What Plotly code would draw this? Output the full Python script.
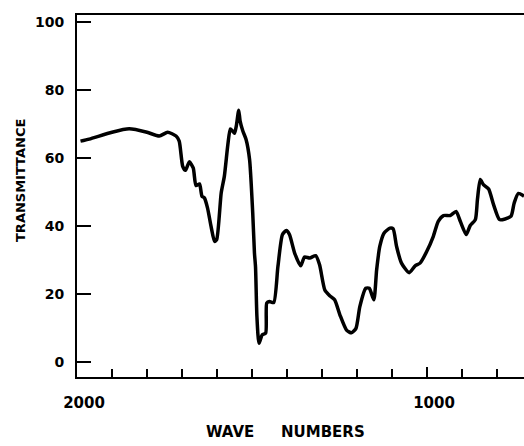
import plotly.graph_objects as go

# Wavenumbers (cm^-1) and transmittance (%)
wavenumber = [1990, 1965, 1900, 1851, 1800, 1765, 1741, 1717, 1708, 1698, 1690, 1679, 1668,
              1660, 1650, 1643, 1636, 1627, 1617, 1607, 1601, 1588, 1579, 1569, 1562, 1555,
              1550, 1545, 1538, 1534, 1526, 1517, 1507, 1498, 1493, 1490, 1486, 1480, 1471,
              1461, 1458, 1450, 1438, 1426, 1413, 1402, 1393, 1378, 1361, 1350, 1335, 1318,
              1307, 1292, 1278, 1264, 1249, 1230, 1216, 1203, 1192, 1175, 1165, 1152, 1144,
              1135, 1123, 1106, 1097, 1087, 1073, 1051, 1034, 1020, 1001, 982, 968, 953,
              934, 917, 905, 888, 877, 862, 856, 848, 839, 824, 810, 793, 777, 760, 751,
              739, 723]
transmittance = [65.0, 65.6, 67.6, 68.6, 67.6, 66.5, 67.6, 66.5, 65.0, 57.6, 56.4, 58.9, 57.1,
                 51.9, 52.4, 48.8, 48.3, 45.3, 39.9, 35.5, 36.0, 49.8, 54.7, 64.0, 68.6, 67.9,
                 67.3, 69.4, 74.1, 70.9, 67.9, 65.5, 59.6, 43.9, 32.0, 28.0, 13.4, 5.5, 8.0,
                 8.5, 17.3, 17.8, 17.5, 28.1, 37.5, 38.7, 37.5, 32.0, 28.3, 30.9, 30.6, 31.3,
                 28.6, 21.2, 19.5, 18.3, 13.9, 9.4, 8.6, 9.9, 16.3, 21.7, 21.7, 18.3, 27.1,
                 34.0, 37.9, 39.4, 39.2, 34.0, 29.1, 26.3, 28.3, 29.1, 32.5, 37.0, 41.4, 43.1,
                 43.1, 44.3, 41.4, 37.5, 40.1, 41.9, 47.8, 53.7, 52.2, 50.9, 46.3, 41.9, 42.1,
                 42.9, 46.8, 49.6, 48.8]

y_ticks = [0, 20, 40, 60, 80, 100]
x_major = [2000, 1000]
x_range = [2000, 723]
y_range = [-4.4, 102.1]

W, H = 524, 446
L, R, T, B = 77, 0, 15, 69
pw, ph = W - L - R, H - T - B


def px(xp):
    return (xp - L) / pw


def py(yp):
    return (H - B - yp) / ph


fig = go.Figure()
fig.add_trace(go.Scatter(
    x=wavenumber, y=transmittance, mode="lines",
    line=dict(color="black", width=3.5, shape="spline", smoothing=0.6),
    hoverinfo="skip", showlegend=False,
))

font = "DejaVu Sans"
fig.update_layout(
    width=W, height=H,
    margin=dict(l=L, r=R, t=T, b=B, pad=0),
    paper_bgcolor="white", plot_bgcolor="white",
    xaxis=dict(
        range=x_range, showgrid=False, zeroline=False,
        showline=True, linecolor="black", linewidth=2, mirror=True,
        tickmode="array", tickvals=x_major, ticktext=[str(v) for v in x_major],
        ticks="inside", ticklen=10, tickwidth=2, tickcolor="black",
        minor=dict(dtick=100, tick0=0, ticks="inside", ticklen=8, tickwidth=2,
                   tickcolor="black", showgrid=False),
        tickfont=dict(family=font, size=15, color="black", weight="bold"),
        ticklabelstandoff=11, ticklabelshift=-7,
    ),
    yaxis=dict(
        range=y_range, showgrid=False, zeroline=False,
        showline=True, linecolor="black", linewidth=2,
        tickmode="array", tickvals=y_ticks,
        ticks="inside", ticklen=14, tickwidth=2, tickcolor="black",
        tickfont=dict(family=font, size=14, color="black", weight="bold"),
        ticklabelstandoff=8,
    ),
)

fig.add_annotation(text="TRANSMITTANCE", x=px(20), y=py(180), xref="paper", yref="paper",
                   xanchor="center", yanchor="middle", textangle=-90, showarrow=False,
                   font=dict(family=font, size=13, color="black", weight="bold"))
fig.add_annotation(text="WAVE", x=px(230), y=py(432), xref="paper", yref="paper",
                   xanchor="center", yanchor="middle", showarrow=False,
                   font=dict(family=font, size=15, color="black", weight="bold"))
fig.add_annotation(text="NUMBERS", x=px(323), y=py(432), xref="paper", yref="paper",
                   xanchor="center", yanchor="middle", showarrow=False,
                   font=dict(family=font, size=15, color="black", weight="bold"))

fig.write_html("out.html")
